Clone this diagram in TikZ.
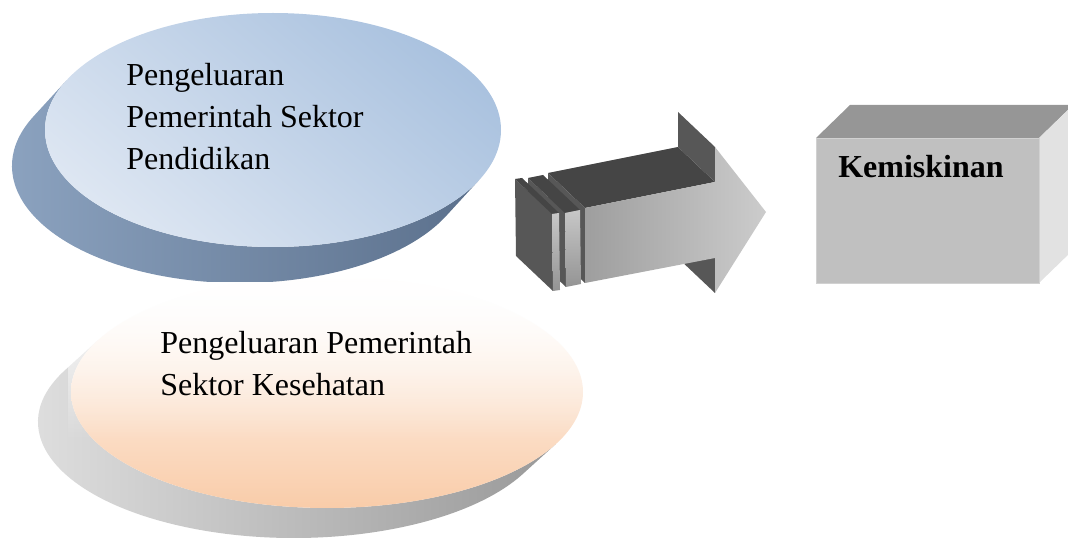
\documentclass[tikz,border=0pt]{standalone}
\usepackage{fontspec}
\setmainfont{Liberation Serif}
\usetikzlibrary{fadings}

\definecolor{eduband}{HTML}{8EA5C2}
\definecolor{edubandd}{HTML}{5B708C}
\definecolor{edutop}{HTML}{AAC2DF}
\definecolor{edubot}{HTML}{DDE6F2}
\definecolor{hltband}{HTML}{E2E2E2}
\definecolor{hltbandd}{HTML}{999999}
\definecolor{hltmid}{HTML}{FDE8DB}
\definecolor{hltbot}{HTML}{F9CCA9}
\definecolor{arrtop}{HTML}{454545}
\definecolor{arrside}{HTML}{575757}
\definecolor{boxfront}{HTML}{C0C0C0}
\definecolor{boxtop}{HTML}{969696}
\definecolor{boxside}{HTML}{E2E2E2}

\tikzfading[name=fadedown, top color=transparent!0, bottom color=transparent!100]

\tikzset{
  txt/.style={font=\fontsize{24}{31.3}\selectfont, align=left, inner sep=0pt},
  slabfront/.style={top color=black!22, bottom color=black!42},
}

\begin{document}
\begin{tikzpicture}[x=0.75pt,y=-0.75pt]
\useasboundingbox (0,0) rectangle (1068,538);

\coordinate (edufront) at (273,130);
\coordinate (eduback) at (240,166);
\coordinate (hltfront) at (327,392);
\coordinate (hltback) at (294,422);

\shade[left color=hltband, right color=hltbandd] (hltback) ++(206.5:256 and 116) arc[start angle=206.5,end angle=26.5,x radius=256,y radius=116] -- ++(33,-30) arc[start angle=26.5,end angle=206.5,x radius=256,y radius=116] -- cycle;
\shade[top color=white, middle color=hltmid, bottom color=hltbot] (hltfront) circle[x radius=256,y radius=116];

\shade[left color=eduband, right color=edubandd] (eduback) ++(205.2:228 and 117) arc[start angle=205.2,end angle=25.2,x radius=228,y radius=117] -- ++(33,-36) arc[start angle=25.2,end angle=205.2,x radius=228,y radius=117] -- cycle;
\shade[top color=edutop, bottom color=edubot, shading angle=-40] (edufront) circle[x radius=228,y radius=117];

\fill[white, path fading=fadedown] (68,282) rectangle (586,440);

\node[txt, anchor=north west] (edu) at (126,63.5) {Pengeluaran\\Pemerintah Sektor\\Pendidikan};
\node[txt, anchor=north west] (hlt) at (160,331.5) {Pengeluaran Pemerintah\\Sektor Kesehatan};

\coordinate (aA) at (585,208);
\coordinate (aB) at (715,182);
\coordinate (aC) at (715,147);
\coordinate (aT) at (766,212);
\coordinate (aD) at (715,293);
\coordinate (aE) at (715,258);
\coordinate (aF) at (585,283);

\fill[arrside] (aE) -- (aD) -- ++(-37,-35) -- ++(0,-35) -- cycle;
\fill[arrtop] (aA) -- (aB) -- ++(-37,-35) -- ++(-130,26) -- cycle;
\fill[arrside] (aB) -- (aC) -- ++(-37,-35) -- ++(0,35) -- cycle;
\fill[arrside] (aA) -- (aF) -- ++(-37,-35) -- ++(0,-75) -- cycle;
\shade[left color=black!38, right color=black!20] (aA) -- (aB) -- (aC) -- (aT) -- (aD) -- (aE) -- (aF) -- cycle;

\fill[arrside] (565,213) -- (566,287) -- ++(-37,-35) -- ++(-1,-74) -- cycle;
\fill[arrtop] (565,213) -- (580,210) -- ++(-37,-35) -- ++(-15,3) -- cycle;
\shade[slabfront] (565,213) -- (580,210) -- (581,284) -- (566,287) -- cycle;

\fill[arrside] (552,214) -- (553,291) -- ++(-37,-35) -- ++(-1,-77) -- cycle;
\fill[arrtop] (552,214) -- (559,213) -- ++(-37,-35) -- ++(-7,1) -- cycle;
\shade[slabfront] (552,214) -- (559,213) -- (560,290) -- (553,291) -- cycle;

\fill[boxtop] (816,138) -- (1039,138) -- (1073,105) -- (850,105) -- cycle;
\fill[boxside] (1039,138) -- (1073,105) -- (1073,250) -- (1039,283) -- cycle;
\draw[fill=boxfront, draw=black!18] (816,138) rectangle (1039,283);
\node[txt, font=\fontsize{24}{31.3}\selectfont\bfseries, anchor=base west] (pov) at (838,178) {Kemiskinan};

\end{tikzpicture}
\end{document}
